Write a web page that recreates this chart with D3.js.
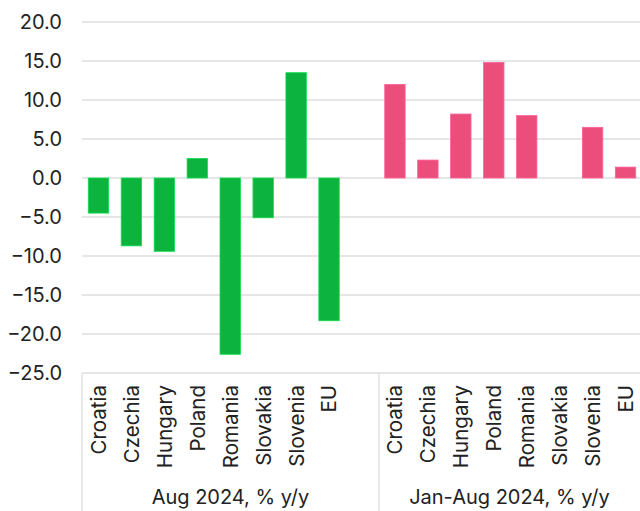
<!DOCTYPE html>
<html>
<head>
<meta charset="utf-8">
<script src="https://cdn.jsdelivr.net/npm/d3@7"></script>
<style>
  body { margin: 0; background: #fff; }
  text { font-family: Inter, "Noto Sans", sans-serif; fill: #222; }
</style>
</head>
<body>
<div id="chart"></div>
<script>
var countries = ["Croatia", "Czechia", "Hungary", "Poland", "Romania", "Slovakia", "Slovenia", "EU"];
var groups = ["Aug 2024, % y/y", "Jan-Aug 2024, % y/y"];
var augValues = [-4.5, -8.7, -9.4, 2.5, -22.6, -5.1, 13.5, -18.3];
var ytdValues = [12.0, 2.3, 8.2, 14.8, 8.0, null, 6.5, 1.4];
var yTicks = [-25, -20, -15, -10, -5, 0, 5, 10, 15, 20];
var colors = ["#0db33f", "#ec4e7c"];

var w = 640, h = 511;
var margin = { left: 82, right: -2, top: 22, plotBottom: 373 };

// one band per country plus an empty slot after the first group
var keys = [];
countries.forEach(function (c) { keys.push("0|" + c); });
keys.push("gap");
countries.forEach(function (c) { keys.push("1|" + c); });

var bars = [];
countries.forEach(function (c, i) {
    bars.push({ key: "0|" + c, name: c, value: augValues[i], g: 0 });
    bars.push({ key: "1|" + c, name: c, value: ytdValues[i], g: 1 });
});

var x = d3.scaleBand().domain(keys).range([margin.left, w - margin.right]).paddingInner(0.38).paddingOuter(0.19);
var y = d3.scaleLinear().domain([-25, 20]).range([margin.plotBottom, margin.top]);

var svg = d3.select("#chart").append("svg").attr("width", w).attr("height", h);

// gridlines
svg.append("g").selectAll("line").data(yTicks).enter().append("line")
    .attr("x1", margin.left).attr("x2", w)
    .attr("y1", function (d) { return y(d); }).attr("y2", function (d) { return y(d); })
    .attr("stroke", "#dedede").attr("stroke-width", 1.3);

// y labels
svg.append("g").selectAll("text").data(yTicks).enter().append("text")
    .attr("x", 62).attr("y", function (d) { return y(d); })
    .attr("dy", "0.36em").attr("text-anchor", "end")
    .style("font-size", "20px")
    .text(function (d) { return d3.format(".1f")(d); });

// bars
svg.append("g").selectAll("rect").data(bars.filter(function (d) { return d.value != null; })).enter().append("rect")
    .attr("x", function (d) { return x(d.key); })
    .attr("width", x.bandwidth())
    .attr("y", function (d) { return y(Math.max(0, d.value)); })
    .attr("height", function (d) { return Math.abs(y(d.value) - y(0)); })
    .attr("fill", function (d) { return colors[d.g]; })
    .attr("stroke", function (d) { return d3.color(colors[d.g]).brighter(0.6); })
    .attr("stroke-width", 0.8);

// category box lines
var divX = x("gap") + x.bandwidth() + x.step() * x.paddingInner() / 2 + 0.5;
var boxLines = [margin.left, divX];
svg.append("g").selectAll("line").data(boxLines).enter().append("line")
    .attr("x1", function (d) { return d; }).attr("x2", function (d) { return d; })
    .attr("y1", margin.plotBottom).attr("y2", h)
    .attr("stroke", "#dedede").attr("stroke-width", 1.3);

// category labels
svg.append("g").selectAll("text").data(bars).enter().append("text")
    .attr("transform", function (d) {
        return "translate(" + (x(d.key) + x.bandwidth() / 2) + "," + 385 + ") rotate(-90)";
    })
    .attr("dy", "0.36em").attr("text-anchor", "end")
    .style("font-size", "20.5px")
    .text(function (d) { return d.name; });

// group labels
var groupCenters = [(margin.left + divX) / 2, (divX + w) / 2];
svg.append("g").selectAll("text").data(groups).enter().append("text")
    .attr("x", function (d, i) { return groupCenters[i]; })
    .attr("y", 504)
    .attr("text-anchor", "middle")
    .style("font-size", "20px")
    .text(function (d) { return d; });
</script>
</body>
</html>
